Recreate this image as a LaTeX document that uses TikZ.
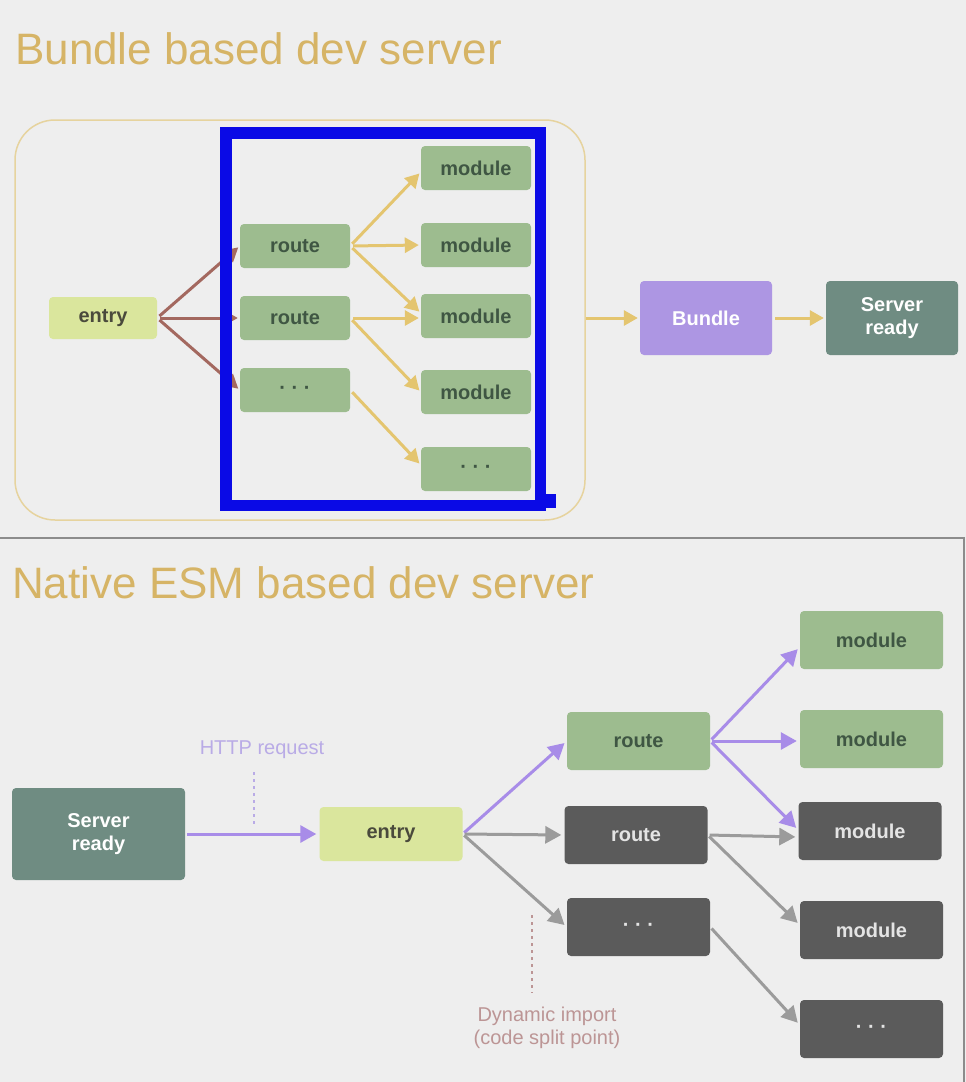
\documentclass[tikz,border=0pt]{standalone}
\usepackage{fontspec}
\setmainfont{Liberation Sans}
\usetikzlibrary{arrows.meta}
\definecolor{bg}{HTML}{EEEEEE}
\definecolor{gold}{HTML}{D6B466}
\definecolor{outline}{HTML}{E6D39E}
\definecolor{gfill}{HTML}{9DBC8F}
\definecolor{gtext}{HTML}{3F5643}
\definecolor{yfill}{HTML}{DAE69D}
\definecolor{ytext}{HTML}{4A4A3C}
\definecolor{pfill}{HTML}{AD96E3}
\definecolor{sfill}{HTML}{6F8C82}
\definecolor{dfill}{HTML}{5B5B5B}
\definecolor{dtext}{HTML}{E4E4E4}
\definecolor{brownarr}{HTML}{A3685F}
\definecolor{yarr}{HTML}{E4C56F}
\definecolor{parr}{HTML}{A88CE8}
\definecolor{garr}{HTML}{9B9B9B}
\definecolor{httpc}{HTML}{B9ABE6}
\definecolor{dync}{HTML}{BC9595}
\definecolor{annot}{HTML}{0A0AE6}
\definecolor{divider}{HTML}{8C8C8C}
\begin{document}
\begin{tikzpicture}[x=1pt,y=-1pt,
  box/.style={rectangle, rounded corners=4pt, inner sep=0pt, align=center,
    font=\fontsize{20}{23}\selectfont\bfseries},
  gbox/.style={box, fill=gfill, text=gtext},
  ybox/.style={box, fill=yfill, text=ytext},
  dbox/.style={box, fill=dfill, text=dtext},
  sbox/.style={box, fill=sfill, text=white},
  pbox/.style={box, fill=pfill, text=white},
  tsize/.style={minimum width=110pt, minimum height=44pt},
  bsize/.style={minimum width=143pt, minimum height=58pt},
  arr/.style={line width=3pt, -{Triangle[length=14pt,width=15pt]},
    shorten <=3pt, shorten >=2pt},
  barr/.style={line width=3pt, -{Triangle[length=16pt,width=17pt]},
    shorten <=2pt, shorten >=3pt},
  title/.style={anchor=base west, inner sep=0pt, text=gold,
    font=\fontsize{44}{48}\selectfont},
  label/.style={inner sep=0pt, align=center, font=\fontsize{20}{23}\selectfont},
  dotline/.style={line width=2.5pt, dash pattern=on 2.5pt off 4.5pt}
]
\useasboundingbox (0,0) rectangle (966,1082);
\fill[bg] (0,0) rectangle (966,1082);
\draw[divider, line width=2pt] (0,538) -- (964,538) -- (964,1082);

% ---------- Top: bundle based ----------
\node[title] (t1) at (15,64) {Bundle based dev server};
\node[draw=outline, line width=1.5pt, rounded corners=40pt, inner sep=0pt,
  minimum width=570pt, minimum height=400pt] (frame) at (300,320) {};

\node[ybox, minimum width=108pt, minimum height=42pt] (te) at (103,318) {entry};
\node[gbox, tsize] (tr1) at (295,246) {route};
\node[gbox, tsize] (tr2) at (295,318) {route};
\node[gbox, tsize] (tr3) at (295,390) {· · ·};
\node[gbox, tsize] (tm1) at (476,168) {module};
\node[gbox, tsize] (tm2) at (476,245) {module};
\node[gbox, tsize] (tm3) at (476,316) {module};
\node[gbox, tsize] (tm4) at (476,392) {module};
\node[gbox, tsize] (tm5) at (476,469) {· · ·};
\node[pbox, minimum width=132pt, minimum height=74pt] (tb) at (706,318) {Bundle};
\node[sbox, minimum width=132pt, minimum height=74pt] (ts) at (892,318) {Server\\ready};

\draw[arr, brownarr] (te.east) -- (tr1.west);
\draw[arr, brownarr] (te.east) -- (tr2.west);
\draw[arr, brownarr] (te.east) -- (tr3.west);
\draw[arr, yarr] (tr1.east) -- ([yshift=-4pt]tm1.west);
\draw[arr, yarr] (tr1.east) -- (tm2.west);
\draw[arr, yarr] (tr1.east) -- ([yshift=3pt]tm3.west);
\draw[arr, yarr] (tr2.east) -- ([yshift=-2pt]tm3.west);
\draw[arr, yarr] (tr2.east) -- (tm4.west);
\draw[arr, yarr] (tr3.east) -- ([yshift=4pt]tm5.west);
\draw[arr, yarr, shorten <=0pt] (frame.east |- tb.west) -- (tb.west);
\draw[arr, yarr] (tb.east) -- (ts.west);

% blue annotation
\draw[annot, line width=11.5pt] (226,133) rectangle (540.5,505.5);
\fill[annot] (540,494) rectangle (556,508);

% ---------- Bottom: native ESM ----------
\node[title] (t2) at (12,598) {Native ESM based dev server};

\node[sbox, minimum width=173pt, minimum height=92pt] (bs) at (98.5,834) {Server\\ready};
\node[ybox, minimum width=143pt, minimum height=54pt] (be) at (391,834) {entry};
\node[gbox, bsize] (br1) at (638.5,741) {route};
\node[dbox, bsize] (br2) at (636,835) {route};
\node[dbox, bsize] (br3) at (638.5,927) {· · ·};
\node[gbox, bsize] (bm1) at (871.5,640) {module};
\node[gbox, bsize] (bm2) at (871.5,739) {module};
\node[dbox, bsize] (bm3) at (870,831) {module};
\node[dbox, bsize] (bm4) at (871.5,930) {module};
\node[dbox, bsize] (bm5) at (871.5,1029) {· · ·};

\node[label, text=httpc] (http) at (262,750) {HTTP request};
\coordinate (h1) at (254,772);
\coordinate (h2) at (254,826);
\draw[dotline, httpc] (h1) -- (h2);

\node[label, text=dync] (dyn) at (547,1028) {Dynamic import\\(code split point)};
\coordinate (d1) at (532,915);
\coordinate (d2) at (532,993);
\draw[dotline, dync] (d1) -- (d2);

\draw[barr, parr] (bs.east) -- (be.west);
\draw[barr, parr] (be.east) -- (br1.west);
\draw[barr, garr] (be.east) -- (br2.west);
\draw[barr, garr] (be.east) -- (br3.west);
\draw[barr, parr] (br1.east) -- ([yshift=-7pt]bm1.west);
\draw[barr, parr] (br1.east) -- ([yshift=-2pt]bm2.west);
\draw[barr, parr] (br1.east) -- ([yshift=1pt]bm3.west);
\draw[barr, garr] (br2.east) -- ([yshift=-6pt]bm3.west);
\draw[barr, garr] (br2.east) -- ([yshift=5pt]bm4.west);
\draw[barr, garr] (br3.east) -- ([yshift=4pt]bm5.west);
\end{tikzpicture}
\end{document}
